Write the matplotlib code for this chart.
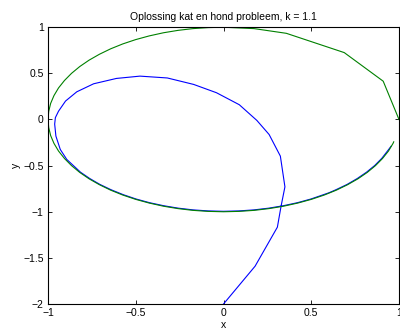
import matplotlib
matplotlib.use("Agg")
import matplotlib.pyplot as plt

# kat (groen): loopt over de eenheidscirkel, tegen de klok in
# (grote stappen aan het begin, daarna fijner)
kat_x = [1.0, 0.910, 0.688, 0.358, 0.174, 0.0,
         -0.087, -0.174, -0.259, -0.342, -0.423, -0.5, -0.574, -0.643, -0.707,
         -0.766, -0.819, -0.866, -0.906, -0.940, -0.966, -0.985, -0.996, -1.0,
         -0.996, -0.985, -0.966, -0.940, -0.906, -0.866, -0.819, -0.766, -0.707,
         -0.643, -0.574, -0.5, -0.423, -0.342, -0.259, -0.174, -0.087, 0.0,
         0.087, 0.174, 0.259, 0.342, 0.423, 0.5, 0.574, 0.643, 0.707,
         0.766, 0.819, 0.866, 0.906, 0.940, 0.966, 0.970]
kat_y = [0.0, 0.415, 0.725, 0.934, 0.985, 1.0,
         0.996, 0.985, 0.966, 0.940, 0.906, 0.866, 0.819, 0.766, 0.707,
         0.643, 0.574, 0.5, 0.423, 0.342, 0.259, 0.174, 0.087, 0.0,
         -0.087, -0.174, -0.259, -0.342, -0.423, -0.5, -0.574, -0.643, -0.707,
         -0.766, -0.819, -0.866, -0.906, -0.940, -0.966, -0.985, -0.996, -1.0,
         -0.996, -0.985, -0.966, -0.940, -0.906, -0.866, -0.819, -0.766, -0.707,
         -0.643, -0.574, -0.5, -0.423, -0.342, -0.259, -0.242]

# hond (blauw): start in (0,-2), komt daarna net binnen de cirkel terecht
hond_x = [0.0, 0.18, 0.307, 0.328, 0.35, 0.324, 0.26, 0.19, 0.09, -0.04,
          -0.17, -0.32, -0.476, -0.61, -0.74, -0.836, -0.90, -0.94, -0.958,
          -0.962, -0.955, -0.93, -0.893, -0.815, -0.762, -0.704, -0.640,
          -0.571, -0.498, -0.421, -0.340, -0.258, -0.173, -0.087, 0.0,
          0.087, 0.173, 0.258, 0.340, 0.421, 0.498, 0.6, 0.640, 0.704,
          0.762, 0.815, 0.862, 0.902, 0.935, 0.955]
hond_y = [-2.0, -1.59, -1.167, -0.94, -0.73, -0.397, -0.163, -0.01, 0.16, 0.29,
          0.38, 0.45, 0.47, 0.445, 0.387, 0.30, 0.2, 0.09, 0.02,
          -0.05, -0.18, -0.325, -0.433, -0.571, -0.640, -0.704, -0.762,
          -0.815, -0.862, -0.902, -0.935, -0.961, -0.980, -0.991, -0.995,
          -0.991, -0.980, -0.961, -0.935, -0.902, -0.862, -0.795, -0.762, -0.704,
          -0.640, -0.571, -0.498, -0.421, -0.340, -0.29]

xticks = [-1, -0.5, 0, 0.5, 1]
yticks = [-2, -1.5, -1, -0.5, 0, 0.5, 1]

plt.rcParams['font.family'] = ['Liberation Sans', 'DejaVu Sans']
plt.rcParams['font.size'] = 7.5

fig = plt.figure(figsize=(4.0, 3.32), dpi=100)
ax = fig.add_axes([0.12, 0.0843, 0.8775, 0.8337])

ax.plot(hond_x, hond_y, color=(0, 0, 1), lw=0.8)
ax.plot(kat_x, kat_y, color=(0, 0.5, 0), lw=0.8)

ax.set_xlim(-1, 1)
ax.set_ylim(-2, 1)
ax.set_xticks(xticks)
ax.set_yticks(yticks)
ax.set_xticklabels(['\u22121', '\u22120.5', '0', '0.5', '1'])
ax.set_yticklabels(['\u22122', '\u22121.5', '\u22121', '\u22120.5', '0', '0.5', '1'])
ax.tick_params(direction='in', top=True, right=True, length=3, width=0.6, pad=3)
for s in ax.spines.values():
    s.set_linewidth(0.8)

ax.set_title('Oplossing kat en hond probleem, k = 1.1', fontsize=7.5, pad=5)
ax.set_xlabel('x', labelpad=1)
ax.set_ylabel('y', labelpad=2)

fig.savefig('out.png', dpi=100)
